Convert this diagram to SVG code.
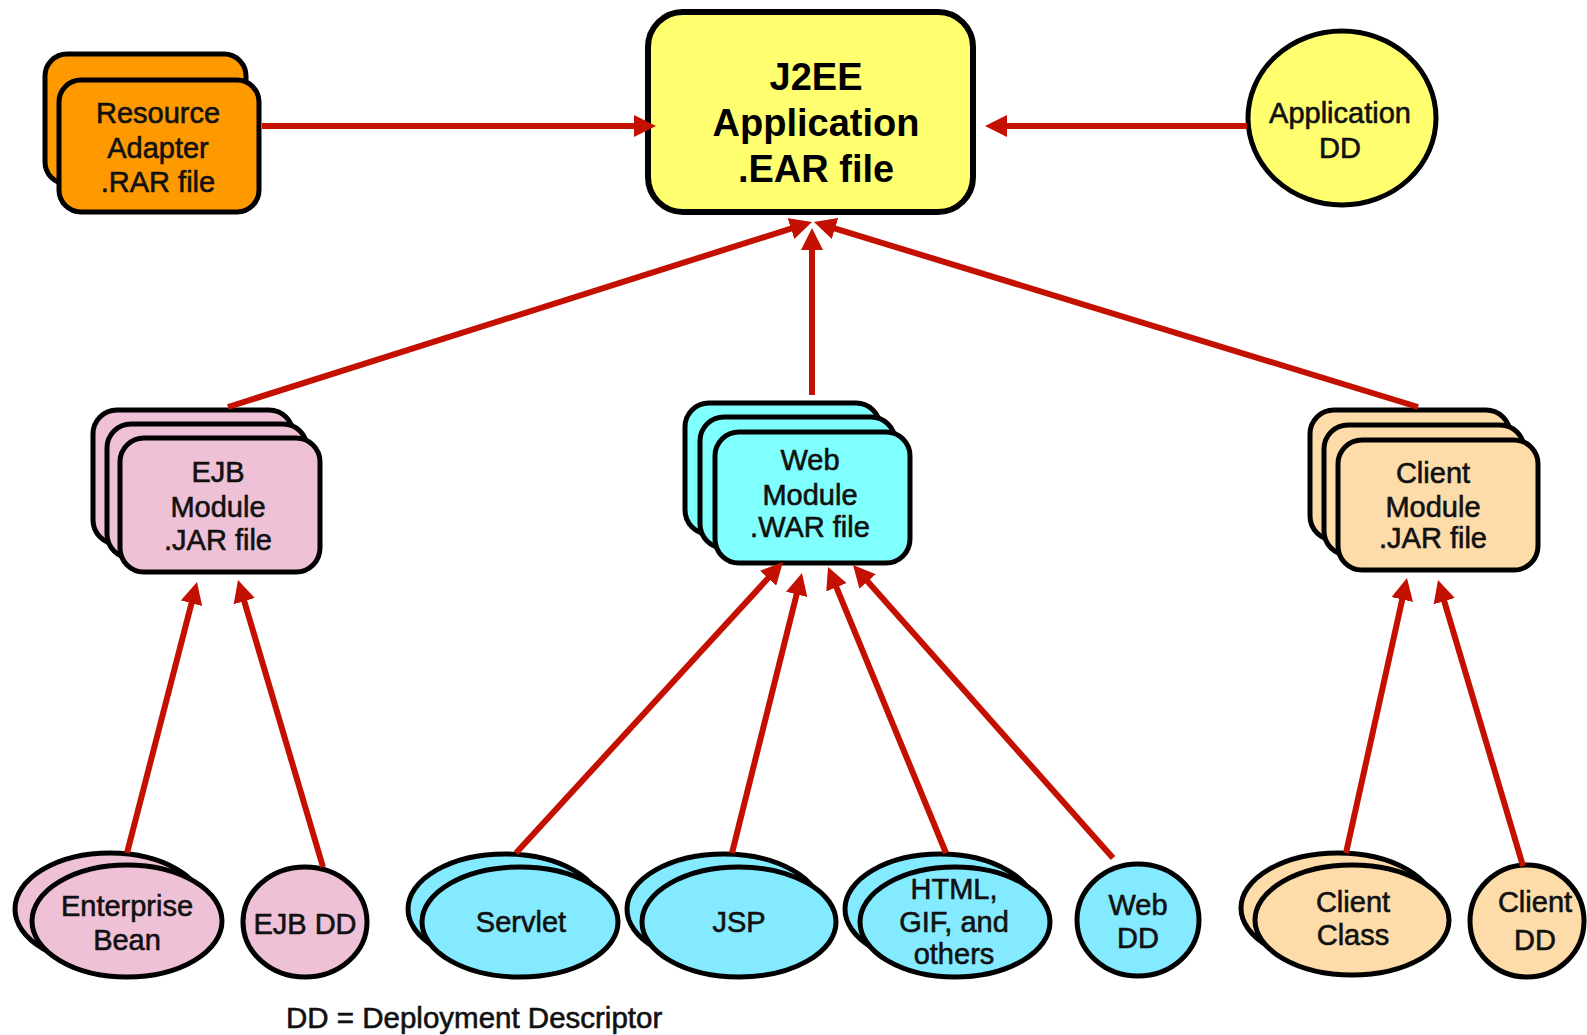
<svg xmlns="http://www.w3.org/2000/svg" width="1587" height="1035" viewBox="0 0 1587 1035">
<style>
  .s { stroke:#000; stroke-width:5; }
  .rar { fill:#ff9900; }
  .ear { fill:#ffff70; }
  .ejb { fill:#efc1d7; }
  .web { fill:#80ffff; }
  .webb { fill:#84eaff; }
  .cli { fill:#fddcaa; }
  .t { font-family:"Liberation Sans", Arial, sans-serif; font-size:29px; fill:#111; stroke:#111; stroke-width:0.6; text-anchor:middle; }
  .tb { font-family:"Liberation Sans", Arial, sans-serif; font-size:38px; font-weight:bold; fill:#000; text-anchor:middle; }
  .c { stroke:#c41000; stroke-width:6; fill:none; marker-end:url(#ah); }
</style>
<defs>
  <marker id="ah" markerUnits="userSpaceOnUse" markerWidth="22" markerHeight="22" refX="4" refY="11" orient="auto">
    <path d="M0,0 L22,11 L0,22 Z" fill="#c41000"/>
  </marker>
</defs>
<rect width="1587" height="1035" fill="#fff"/>

<g id="rar">
  <rect class="s rar" x="45" y="54" width="201" height="130" rx="22"/>
  <rect class="s rar" x="59" y="80" width="200" height="132" rx="22"/>
  <text class="t" x="158" y="123">Resource</text>
  <text class="t" x="158" y="158">Adapter</text>
  <text class="t" x="158" y="192">.RAR file</text>
</g>

<g id="ear">
  <rect class="ear" x="648" y="12" width="325" height="200" rx="35" stroke="#000" stroke-width="6"/>
  <text class="tb" x="816" y="90">J2EE</text>
  <text class="tb" x="816" y="136">Application</text>
  <text class="tb" x="816" y="182">.EAR file</text>
</g>

<g id="appdd">
  <ellipse class="s ear" cx="1342" cy="118" rx="94" ry="87"/>
  <text class="t" x="1340" y="123">Application</text>
  <text class="t" x="1340" y="158">DD</text>
</g>

<g id="ejbmod">
  <rect class="s ejb" x="93" y="410" width="200" height="134" rx="24"/>
  <rect class="s ejb" x="107" y="424" width="200" height="134" rx="24"/>
  <rect class="s ejb" x="120" y="438" width="200" height="134" rx="24"/>
  <text class="t" x="218" y="482">EJB</text>
  <text class="t" x="218" y="517">Module</text>
  <text class="t" x="218" y="550">.JAR file</text>
</g>

<g id="webmod">
  <rect class="s web" x="685" y="403" width="195" height="131" rx="24"/>
  <rect class="s web" x="700" y="417" width="195" height="131" rx="24"/>
  <rect class="s web" x="715" y="432" width="195" height="131" rx="24"/>
  <text class="t" x="810" y="470">Web</text>
  <text class="t" x="810" y="505">Module</text>
  <text class="t" x="810" y="537">.WAR file</text>
</g>

<g id="climod">
  <rect class="s cli" x="1310" y="410" width="200" height="130" rx="24"/>
  <rect class="s cli" x="1324" y="425" width="200" height="130" rx="24"/>
  <rect class="s cli" x="1338" y="440" width="200" height="130" rx="24"/>
  <text class="t" x="1433" y="483">Client</text>
  <text class="t" x="1433" y="517">Module</text>
  <text class="t" x="1433" y="548">.JAR file</text>
</g>

<g id="bean">
  <ellipse class="s ejb" cx="110" cy="909" rx="95" ry="56"/>
  <ellipse class="s ejb" cx="127" cy="921" rx="95" ry="56"/>
  <text class="t" x="127" y="916">Enterprise</text>
  <text class="t" x="127" y="950">Bean</text>
</g>

<g id="ejbdd">
  <ellipse class="s ejb" cx="305" cy="922" rx="62" ry="55"/>
  <text class="t" x="305" y="934">EJB DD</text>
</g>

<g id="servlet">
  <ellipse class="s webb" cx="505" cy="909" rx="97" ry="55"/>
  <ellipse class="s webb" cx="520" cy="922" rx="98" ry="55"/>
  <text class="t" x="521" y="932">Servlet</text>
</g>

<g id="jsp">
  <ellipse class="s webb" cx="724" cy="909" rx="97" ry="55"/>
  <ellipse class="s webb" cx="739" cy="922" rx="97" ry="55"/>
  <text class="t" x="739" y="932">JSP</text>
</g>

<g id="html">
  <ellipse class="s webb" cx="940" cy="909" rx="95" ry="55"/>
  <ellipse class="s webb" cx="955" cy="922" rx="95" ry="55"/>
  <text class="t" x="954" y="899">HTML,</text>
  <text class="t" x="954" y="932">GIF, and</text>
  <text class="t" x="954" y="964">others</text>
</g>

<g id="webdd">
  <ellipse class="s webb" cx="1138" cy="920" rx="61" ry="56"/>
  <text class="t" x="1138" y="915">Web</text>
  <text class="t" x="1138" y="948">DD</text>
</g>

<g id="clientclass">
  <ellipse class="s cli" cx="1338" cy="908" rx="97" ry="55"/>
  <ellipse class="s cli" cx="1352" cy="920" rx="97" ry="55"/>
  <text class="t" x="1353" y="912">Client</text>
  <text class="t" x="1353" y="945">Class</text>
</g>

<g id="clientdd">
  <ellipse class="s cli" cx="1527" cy="921" rx="57" ry="56"/>
  <text class="t" x="1535" y="912">Client</text>
  <text class="t" x="1535" y="950">DD</text>
</g>

<g id="connectors">
  <path class="c" d="M262,126 L638,126"/>
  <path class="c" d="M1247,126 L1003,126"/>
  <path class="c" d="M228,407 L794.8,227.4"/>
  <path class="c" d="M812,395 L812,246"/>
  <path class="c" d="M1418,407 L831.2,227.3"/>
  <path class="c" d="M127,853 L192.5,599.4"/>
  <path class="c" d="M323,867 L243.1,597.3"/>
  <path class="c" d="M516,853 L770.8,575.3"/>
  <path class="c" d="M732,853 L797.6,590.5"/>
  <path class="c" d="M946,853 L834.9,583.6"/>
  <path class="c" d="M1113,858 L865,578.5"/>
  <path class="c" d="M1346,853 L1403.1,595.6"/>
  <path class="c" d="M1523,866 L1443.1,597.3"/>
</g>

<text class="t" x="286" y="1028" style="text-anchor:start;font-size:29.5px">DD = Deployment Descriptor</text>
</svg>
